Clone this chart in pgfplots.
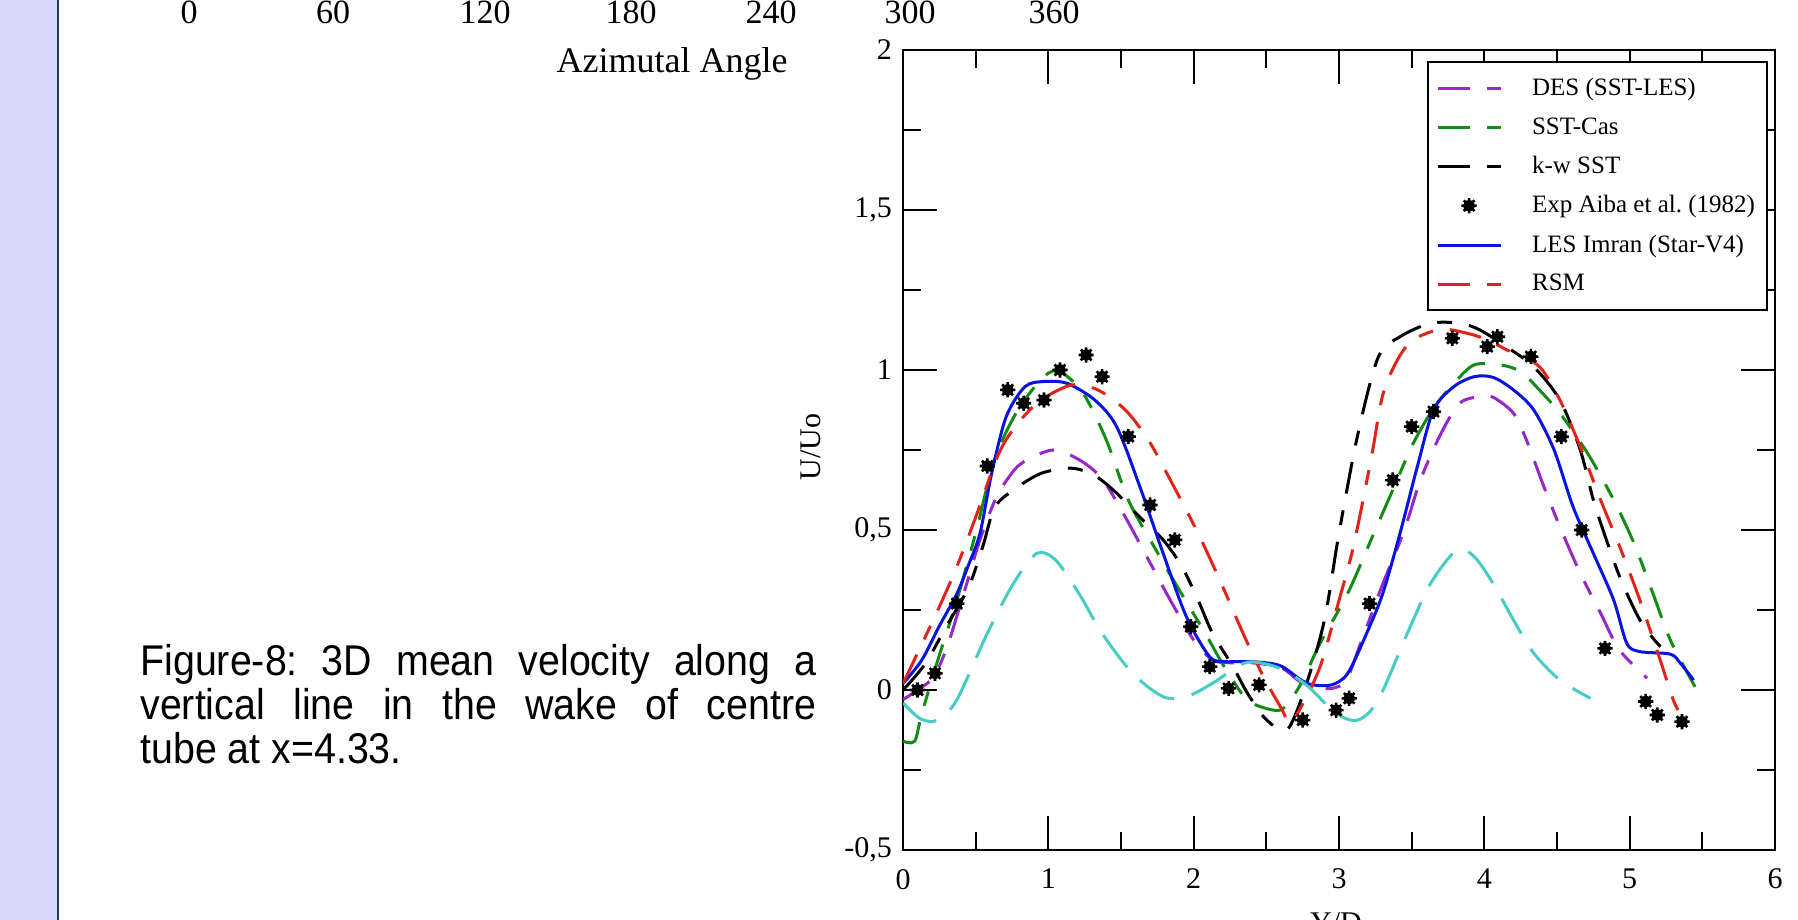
\documentclass[border=0pt]{standalone}
\usepackage{pgfplots}
\pgfplotsset{compat=1.18}
\usepackage{fontspec}
\setmainfont{Liberation Serif}
\newfontfamily\capfont[FakeStretch=0.915]{Liberation Sans}
\definecolor{despurple}{RGB}{150,40,200}
\definecolor{sstgreen}{RGB}{20,140,20}
\definecolor{rsmred}{RGB}{225,35,25}
\definecolor{lesblue}{RGB}{10,20,225}
\definecolor{cyanc}{RGB}{70,205,195}
\definecolor{stripc}{RGB}{214,215,250}
\definecolor{striplc}{RGB}{35,60,100}
\pgfdeclareplotmark{burst}{%
  \pgfpathcircle{\pgfpointorigin}{0.75\pgfplotmarksize}\pgfusepathqfill
  \pgfpathmoveto{\pgfqpoint{-\pgfplotmarksize}{0pt}}\pgfpathlineto{\pgfqpoint{\pgfplotmarksize}{0pt}}%
  \pgfpathmoveto{\pgfqpoint{0pt}{-\pgfplotmarksize}}\pgfpathlineto{\pgfqpoint{0pt}{\pgfplotmarksize}}%
  \pgfpathmoveto{\pgfpointpolar{45}{\pgfplotmarksize}}\pgfpathlineto{\pgfpointpolar{225}{\pgfplotmarksize}}%
  \pgfpathmoveto{\pgfpointpolar{135}{\pgfplotmarksize}}\pgfpathlineto{\pgfpointpolar{315}{\pgfplotmarksize}}%
  \pgfusepathqstroke}
\tikzset{dd/.style={dash pattern=on 16pt off 8.5pt on 7.5pt off 8.5pt}}
\begin{document}
\frenchspacing
\begin{tikzpicture}
\useasboundingbox (0,0) rectangle (899pt,460pt);
\clip (0,0) rectangle (899pt,460pt);
\fill[stripc] (0,0) rectangle (28.5pt,460pt);
\draw[striplc, line width=1pt] (29pt,0) -- (29pt,460pt);
% fragment of the chart above
\foreach \xx/\lab in {94.5/0,166.5/60,242.5/120,315.5/180,385.5/240,455/300,527/360}
  \node[font=\fontsize{17}{20}\selectfont, anchor=base, inner sep=0pt] at (\xx pt,448pt) {\lab};
\node[font=\fontsize{18}{21}\selectfont, anchor=base, inner sep=0pt] at (336pt,423.5pt) {Azimutal Angle};
% caption
\begin{scope}[every node/.style={anchor=base west, inner sep=0pt, font=\capfont\fontsize{21.5}{21.8}\selectfont}]
\node at (70pt,122pt) {\makebox[338pt][s]{Figure-8: 3D mean velocity along a}};
\node at (70pt,100.2pt) {\makebox[338pt][s]{vertical line in the wake of centre}};
\node at (70pt,78.4pt) {tube at x=4.33.};
\end{scope}
\begin{axis}[
  at={(451.5pt,35pt)}, anchor=south west,
  scale only axis, width=436pt, height=400pt,
  xmin=0, xmax=6, ymin=-0.5, ymax=2,
  xtick={0,1,2,3,4,5,6}, xticklabels={0,1,2,3,4,5,6},
  ytick={-0.5,0,0.5,1,1.5,2}, yticklabels={{-0,5},0,{0,5},1,{1,5},2},
  minor x tick num=1, minor y tick num=1,
  tick align=inside, tick pos=both,
  major tick length=17pt, minor tick length=9pt,
  every tick/.style={black, line width=1pt},
  axis line style={line width=1.25pt},
  tick label style={font=\fontsize{15}{18}\selectfont},
  xticklabel style={yshift=-6pt},
  yticklabel style={xshift=-2pt},
  label style={font=\fontsize{15}{18}\selectfont},
  xlabel={Y/D}, ylabel={U/Uo},
  xlabel style={at={(axis description cs:0.4966,-0.0775)}, anchor=north, inner sep=0pt},
  ylabel style={at={(axis description cs:-0.1055,0.504)}, anchor=center},
  legend style={at={(axis description cs:0.992,0.986)}, anchor=north east,
    draw=black, line width=1.1pt, fill=white,
    font=\fontsize{12.5}{14}\selectfont,
    inner xsep=4pt, inner ysep=6pt, row sep=5.5pt,
    /tikz/every odd column/.append style={column sep=13pt}},
  legend cell align=left,
  legend image code/.code={\draw[mark repeat=2,mark phase=2,#1] plot coordinates {(0pt,0pt) (15.75pt,0pt) (31.5pt,0pt)};},
]
% DES (SST-LES)
\addplot[despurple, line width=1.5pt, dd, smooth] coordinates {
(0,-0.03)(0.1,0.0)(0.21,0.04)(0.3,0.13)(0.37,0.23)(0.45,0.35)(0.53,0.47)(0.63,0.59)(0.72,0.66)(0.82,0.71)(1.03,0.75)(1.21,0.72)(1.37,0.66)(1.53,0.54)(1.69,0.406)(1.84,0.28)(2.0,0.156)(2.13,0.094)(2.25,0.085)(2.4,0.085)(2.6,0.07)(2.72,0.03)(2.82,0.01)(2.95,0.005)(3.05,0.03)(3.14,0.135)(3.3,0.33)(3.45,0.50)(3.56,0.656)(3.70,0.80)(3.83,0.896)(3.97,0.917)(4.06,0.915)(4.20,0.865)(4.29,0.781)(4.41,0.635)(4.52,0.51)(4.66,0.365)(4.80,0.24)(4.93,0.125)(5.12,0.037)};
\addlegendentry{DES (SST-LES)}
% SST-Cas
\addplot[sstgreen, line width=1.5pt, dd, smooth] coordinates {
(0,-0.16)(0.08,-0.16)(0.13,-0.073)(0.24,0.094)(0.37,0.28)(0.50,0.49)(0.63,0.72)(0.79,0.875)(0.97,0.979)(1.08,0.995)(1.24,0.927)(1.40,0.78)(1.55,0.594)(1.74,0.438)(1.90,0.313)(2.08,0.177)(2.21,0.073)(2.37,-0.031)(2.55,-0.063)(2.63,-0.052)(2.74,0.021)(2.87,0.146)(3.06,0.302)(3.24,0.49)(3.37,0.625)(3.51,0.77)(3.65,0.88)(3.79,0.958)(3.93,1.016)(4.11,1.016)(4.25,0.995)(4.38,0.937)(4.52,0.865)(4.71,0.74)(4.89,0.594)(5.03,0.458)(5.16,0.302)(5.28,0.156)(5.45,0.01)};
\addlegendentry{SST-Cas}
% k-w SST
\addplot[black, line width=1.5pt, dd, smooth] coordinates {
(0,0.0)(0.15,0.08)(0.3,0.2)(0.45,0.32)(0.55,0.45)(0.63,0.57)(0.76,0.625)(0.95,0.677)(1.16,0.693)(1.32,0.67)(1.47,0.615)(1.63,0.54)(1.79,0.469)(1.92,0.385)(2.03,0.281)(2.13,0.177)(2.27,0.073)(2.37,-0.01)(2.48,-0.083)(2.58,-0.12)(2.66,-0.115)(2.77,0.01)(2.90,0.219)(3.00,0.49)(3.13,0.80)(3.27,1.04)(3.42,1.104)(3.63,1.146)(3.83,1.146)(3.97,1.125)(4.15,1.073)(4.34,1.01)(4.52,0.906)(4.66,0.75)(4.75,0.594)(4.84,0.469)(4.94,0.344)(5.07,0.219)(5.19,0.146)(5.26,0.12)};
\addlegendentry{k-w SST}
% Exp
\addplot[only marks, mark=burst, mark size=3.8pt, black, mark options={line width=1.3pt}] coordinates {
(0.1,0.0)(0.22,0.052)(0.37,0.27)(0.58,0.70)(0.72,0.938)(0.83,0.896)(0.97,0.906)(1.08,1.0)(1.26,1.047)(1.37,0.979)(1.55,0.792)(1.70,0.578)(1.87,0.469)(1.98,0.198)(2.11,0.073)(2.24,0.005)(2.45,0.016)(2.75,-0.094)(2.98,-0.063)(3.07,-0.026)(3.21,0.27)(3.37,0.656)(3.50,0.823)(3.65,0.87)(3.78,1.099)(4.02,1.073)(4.09,1.104)(4.32,1.042)(4.53,0.792)(4.67,0.5)(4.83,0.13)(5.11,-0.036)(5.19,-0.078)(5.36,-0.099)};
\addlegendentry{Exp Aiba et al. (1982)}
% LES Imran
\addplot[lesblue, line width=1.5pt, smooth] coordinates {
(0,0.02)(0.13,0.094)(0.25,0.2)(0.37,0.30)(0.45,0.39)(0.53,0.49)(0.61,0.677)(0.71,0.854)(0.84,0.948)(0.97,0.964)(1.13,0.958)(1.32,0.906)(1.47,0.823)(1.63,0.635)(1.79,0.427)(1.95,0.229)(2.11,0.104)(2.21,0.089)(2.34,0.089)(2.5,0.085)(2.61,0.073)(2.74,0.031)(2.82,0.016)(2.95,0.016)(3.06,0.052)(3.19,0.177)(3.30,0.30)(3.42,0.49)(3.54,0.70)(3.65,0.875)(3.79,0.948)(3.93,0.979)(4.06,0.977)(4.20,0.938)(4.34,0.875)(4.48,0.75)(4.61,0.573)(4.75,0.427)(4.89,0.281)(4.98,0.146)(5.07,0.12)(5.28,0.112)(5.35,0.083)(5.44,0.031)};
\addlegendentry{LES Imran (Star-V4)}
% RSM
\addplot[rsmred, line width=1.5pt, dd, smooth] coordinates {
(0,0.02)(0.11,0.125)(0.24,0.25)(0.37,0.385)(0.50,0.54)(0.66,0.74)(0.79,0.833)(0.95,0.906)(1.16,0.953)(1.34,0.938)(1.53,0.875)(1.69,0.78)(1.84,0.656)(2.03,0.49)(2.19,0.333)(2.34,0.177)(2.48,0.042)(2.61,-0.063)(2.66,-0.104)(2.74,-0.052)(2.87,0.073)(3.00,0.28)(3.1,0.45)(3.22,0.72)(3.3,0.92)(3.4,1.03)(3.51,1.094)(3.70,1.127)(3.88,1.115)(4.02,1.094)(4.20,1.052)(4.38,1.01)(4.52,0.906)(4.66,0.76)(4.80,0.594)(4.94,0.438)(5.07,0.281)(5.21,0.094)(5.30,-0.031)(5.37,-0.094)};
\addlegendentry{RSM}
% unlabelled turquoise curve
\addplot[cyanc, line width=1.5pt, dash pattern=on 20pt off 9pt, smooth, forget plot] coordinates {
(0,-0.04)(0.12,-0.09)(0.24,-0.094)(0.37,-0.031)(0.58,0.177)(0.76,0.333)(0.92,0.427)(1.05,0.406)(1.21,0.302)(1.37,0.177)(1.58,0.052)(1.79,-0.021)(1.95,-0.021)(2.13,0.021)(2.34,0.083)(2.48,0.083)(2.63,0.06)(2.79,0.01)(2.98,-0.073)(3.13,-0.094)(3.27,-0.031)(3.47,0.177)(3.63,0.333)(3.81,0.437)(3.93,0.417)(4.06,0.333)(4.20,0.219)(4.34,0.115)(4.52,0.031)(4.73,-0.026)};
\end{axis}
\end{tikzpicture}
\end{document}
